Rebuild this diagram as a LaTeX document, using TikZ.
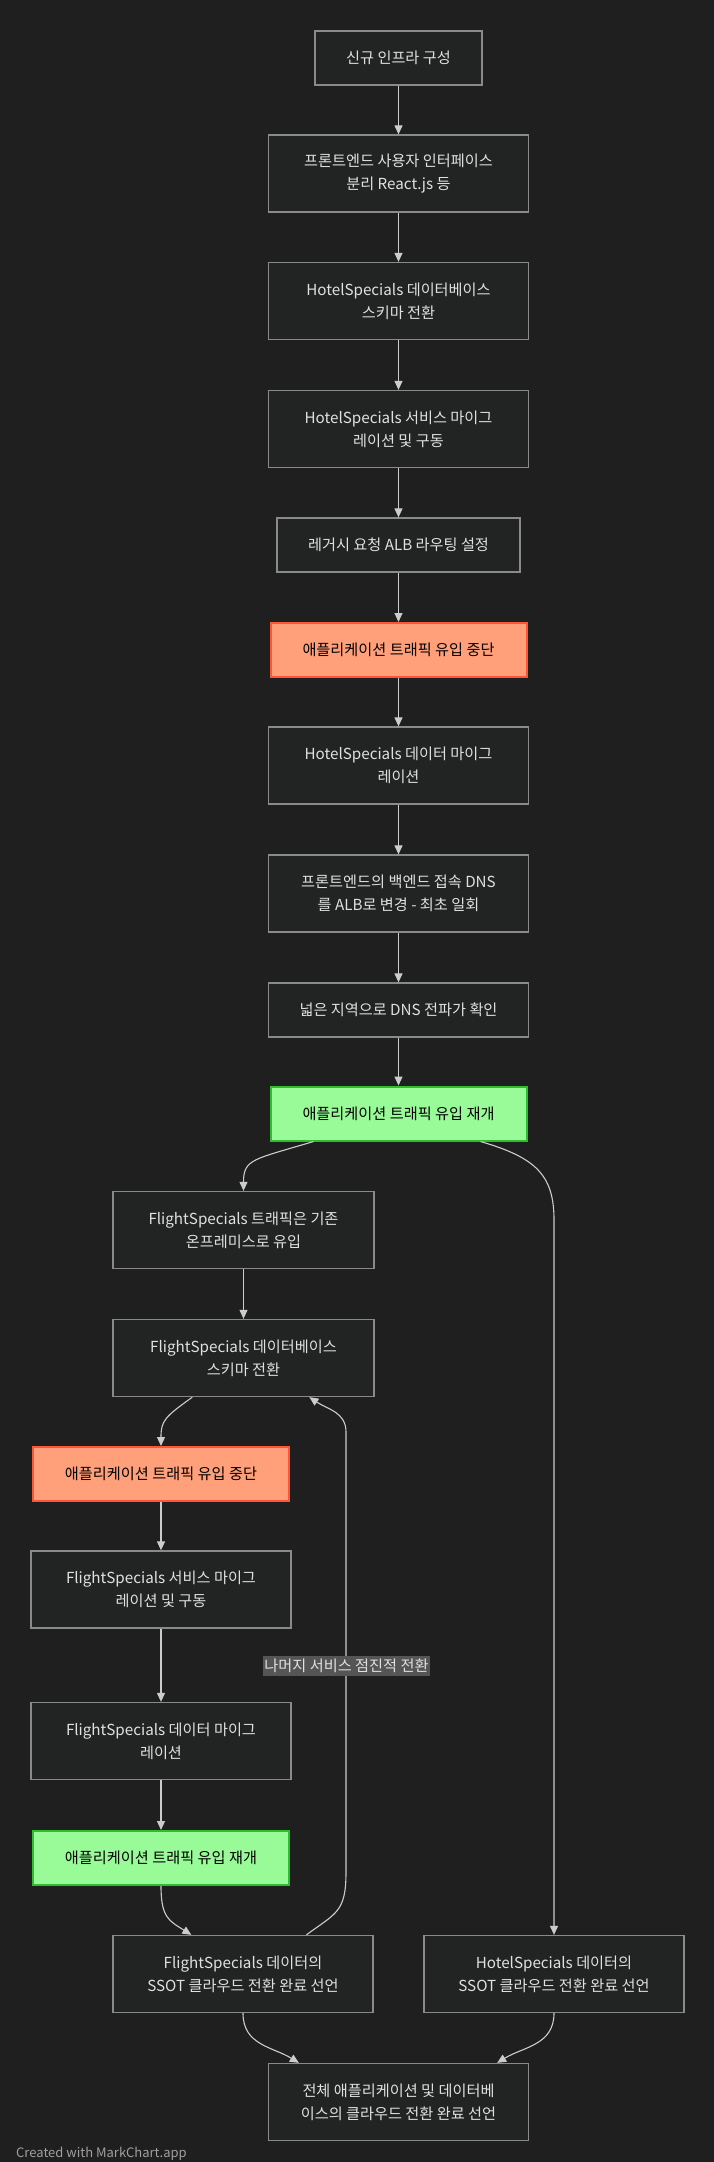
\documentclass[tikz,border=0pt]{standalone}
\usepackage{fontspec}
\setmainfont{Noto Sans CJK KR}
\usetikzlibrary{arrows.meta,calc}
\definecolor{bg}{HTML}{1F1F1F}
\definecolor{boxfill}{HTML}{222424}
\definecolor{boxline}{HTML}{8A8A8A}
\definecolor{txt}{HTML}{E0E0E0}
\definecolor{edgecol}{HTML}{CCCCCC}
\definecolor{salmon}{HTML}{FFA07A}
\definecolor{redline}{HTML}{FF5436}
\definecolor{palegreen}{HTML}{98FB98}
\definecolor{greenline}{HTML}{2DBE2D}
\definecolor{lblfill}{HTML}{555555}
\definecolor{footer}{HTML}{A0A0A0}
\tikzset{
  box/.style={draw=boxline, fill=boxfill, line width=1.3pt, text=txt,
    font=\fontsize{15.2}{23.3}\selectfont, align=center, inner sep=0pt,
    minimum width=260pt, minimum height=77pt},
  shortbox/.style={box, minimum height=54pt},
  redbox/.style={box, fill=salmon, draw=redline, line width=2pt, text=black,
    minimum width=256pt, minimum height=54pt},
  greenbox/.style={box, fill=palegreen, draw=greenline, line width=2pt, text=black,
    minimum width=256pt, minimum height=54pt},
  edge/.style={draw=edgecol, line width=1.1pt, -{Triangle[length=9pt,width=8pt]}},
  lbl/.style={fill=lblfill, text=txt, font=\fontsize{15.2}{18}\selectfont,
    inner xsep=1pt, inner ysep=3pt}
}
\begin{document}
\begin{tikzpicture}[x=1pt,y=-1pt]
\fill[bg] (0,0) rectangle (714,2162);
\useasboundingbox (0,0) rectangle (714,2162);

\node[shortbox, minimum width=167pt] (n1) at (398.5,58) {신규 인프라 구성};
\node[box] (n2) at (398.5,173.5) {프론트엔드 사용자 인터페이스\\분리 React.js 등};
\node[box] (n3) at (398.5,301) {HotelSpecials 데이터베이스\\스키마 전환};
\node[box] (n4) at (398.5,429) {HotelSpecials 서비스 마이그\\레이션 및 구동};
\node[shortbox, minimum width=243pt] (n5) at (398.5,545) {레거시 요청 ALB 라우팅 설정};
\node[redbox] (n6) at (398.5,650) {애플리케이션 트래픽 유입 중단};
\node[box] (n7) at (398.5,765.5) {HotelSpecials 데이터 마이그\\레이션};
\node[box] (n8) at (398.5,893.5) {프론트엔드의 백엔드 접속 DNS\\를 ALB로 변경 - 최초 일회};
\node[shortbox] (n9) at (398.5,1010) {넓은 지역으로 DNS 전파가 확인};
\node[greenbox] (n10) at (398.5,1113.5) {애플리케이션 트래픽 유입 재개};
\node[box, minimum width=261pt] (n11) at (243.5,1230) {FlightSpecials 트래픽은 기존\\온프레미스로 유입};
\node[box, minimum width=261pt] (n12) at (243.5,1358) {FlightSpecials 데이터베이스\\스키마 전환};
\node[redbox] (n13) at (161,1474) {애플리케이션 트래픽 유입 중단};
\node[box] (n14) at (161,1589.5) {FlightSpecials 서비스 마이그\\레이션 및 구동};
\node[box] (n15) at (161,1741) {FlightSpecials 데이터 마이그\\레이션};
\node[greenbox] (n16) at (161,1858) {애플리케이션 트래픽 유입 재개};
\node[box] (n17) at (243,1974) {FlightSpecials 데이터의\\SSOT 클라우드 전환 완료 선언};
\node[box] (n18) at (554,1974) {HotelSpecials 데이터의\\SSOT 클라우드 전환 완료 선언};
\node[box] (n19) at (398.5,2102) {전체 애플리케이션 및 데이터베\\이스의 클라우드 전환 완료 선언};

\node[anchor=west, text=footer, font=\fontsize{13}{15}\selectfont, inner sep=0pt] (foot) at (16,2154) {Created with MarkChart.app};

\draw[edge] (n1) -- (n2);
\draw[edge] (n2) -- (n3);
\draw[edge] (n3) -- (n4);
\draw[edge] (n4) -- (n5);
\draw[edge] (n5) -- (n6);
\draw[edge] (n6) -- (n7);
\draw[edge] (n7) -- (n8);
\draw[edge] (n8) -- (n9);
\draw[edge] (n9) -- (n10);

\draw[edge] ($(n10.south west)+(44,0)$) .. controls +(-60,18) and +(0,-32) .. (n11.north);
\draw[edge] ($(n10.south west)+(211,0)$) .. controls +(55,16) and +(0,-45) .. ($(n18.north)+(0,-715)$) -- (n18.north);
\draw[edge] (n11) -- (n12);
\draw[edge] ($(n12.south west)+(80,0)$) .. controls +(-28,20) and +(0,-25) .. (n13.north);
\draw[edge] (n13) -- (n14);
\draw[edge] (n14) -- (n15);
\draw[edge] (n15) -- (n16);
\draw[edge] (n16.south) .. controls +(0,32) and +(-22,-14) .. ($(n17.north west)+(79,0)$);
\coordinate (up1) at (346,1872);
\coordinate (up2) at (346,1432);
\draw[edge] ($(n17.north west)+(194,0)$) .. controls +(30,-22) and +(0,40) .. (up1)
   -- (up2) .. controls +(0,-20) and +(18,12) .. ($(n12.south west)+(197,0)$);
\node[lbl] (lab) at (346.5,1666) {나머지 서비스 점진적 전환};
\draw[edge] (n17.south) .. controls +(0,32) and +(-26,-16) .. ($(n19.north west)+(31,0)$);
\draw[edge] (n18.south) .. controls +(0,32) and +(26,-16) .. ($(n19.north east)+(-32,0)$);
\end{tikzpicture}
\end{document}
